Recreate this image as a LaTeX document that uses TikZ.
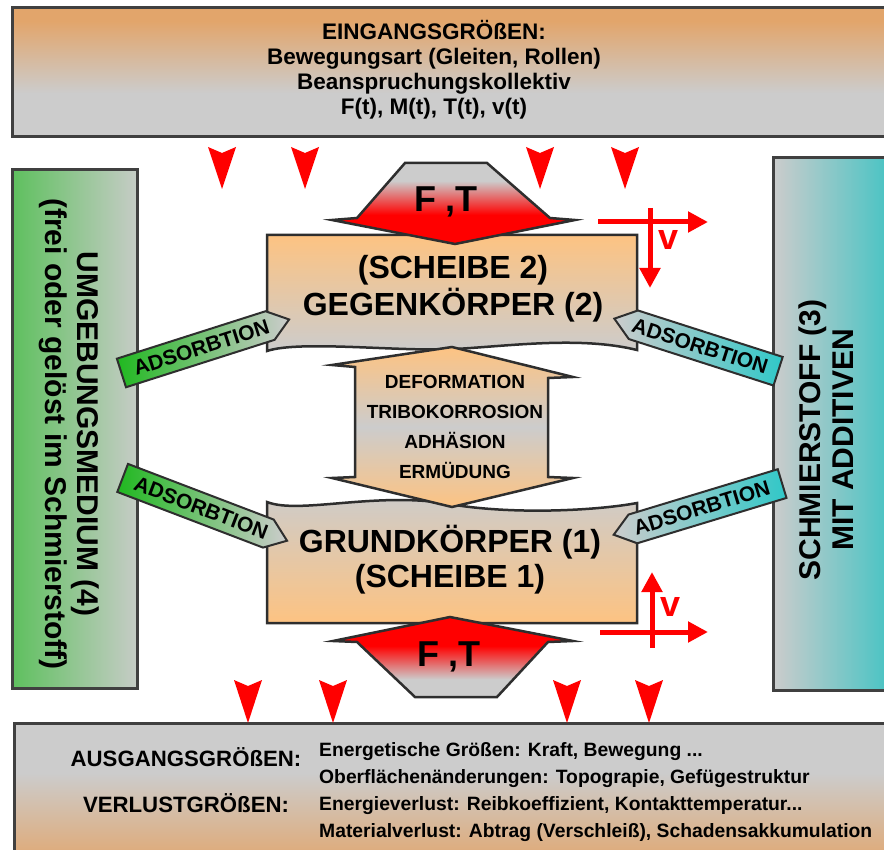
\documentclass[tikz,border=0pt]{standalone}
\usepackage{fontspec}
\setmainfont{Liberation Sans}
\usetikzlibrary{arrows.meta}
\definecolor{boxgray}{HTML}{CCCCCC}
\definecolor{topor}{HTML}{E2A56B}
\definecolor{blockor}{HTML}{FDC382}
\definecolor{edge}{HTML}{2E2E2E}
\definecolor{framec}{HTML}{404040}
\definecolor{envgreen}{HTML}{5EC05E}
\definecolor{envgray}{HTML}{C6CCC6}
\definecolor{lubteal}{HTML}{3CC3C3}
\definecolor{adsgreen}{HTML}{20B820}
\definecolor{adsteal}{HTML}{30C8C8}
\definecolor{redf}{HTML}{FF0000}
\pgfdeclareverticalshading{topboxsh}{100bp}{color(0bp)=(boxgray); color(25bp)=(boxgray); color(42bp)=(boxgray); color(70bp)=(topor); color(100bp)=(topor)}
\pgfdeclareverticalshading{botboxsh}{100bp}{color(0bp)=(topor); color(25bp)=(topor); color(58bp)=(boxgray); color(75bp)=(boxgray); color(100bp)=(boxgray)}
\pgfdeclareverticalshading{midsh}{100bp}{color(0bp)=(blockor); color(25bp)=(blockor); color(50bp)=(boxgray); color(75bp)=(blockor); color(100bp)=(blockor)}
\pgfdeclareverticalshading{ftupsh}{100bp}{color(0bp)=(redf); color(25bp)=(redf); color(43bp)=(redf); color(64bp)=(boxgray); color(75bp)=(boxgray); color(100bp)=(boxgray)}
\pgfdeclareverticalshading{ftdownsh}{100bp}{color(0bp)=(boxgray); color(25bp)=(boxgray); color(36bp)=(boxgray); color(57bp)=(redf); color(75bp)=(redf); color(100bp)=(redf)}
\newcommand{\szf}[2]{\fontsize{#1}{#2}\selectfont\bfseries}
\begin{document}
\begin{tikzpicture}[x=1pt,y=-1pt,
  frame/.style={draw=framec, line width=3pt},
  blk/.style={draw=edge, line width=2.5pt, line join=miter},
  lbl/.style={inner sep=0pt, align=center, text=black},
  adsbox/.style={draw=edge, line width=2pt, line join=miter},
  adstext/.style={inner sep=0pt, transform shape, font=\szf{21}{22}},
  varrow/.style={draw=redf, line width=5pt, -{Triangle[length=20pt,width=20pt]}},
]
\useasboundingbox (0,0) rectangle (884,850);
\clip (0,0) rectangle (884,850);
\fill[white] (0,0) rectangle (884,850);

% input / output boxes
\draw[frame, shade, shading=topboxsh] (12,8) rectangle (900,137);
\draw[frame, shade, shading=botboxsh] (14,723) rectangle (900,870);
% environment and lubricant boxes
\draw[frame, left color=envgreen, right color=envgray] (12,170) rectangle (137,688);
\draw[frame, left color=boxgray, right color=lubteal] (773,158) rectangle (900,690);

% bodies
\draw[blk, top color=blockor, bottom color=boxgray]
  (267,235) -- (637,235) -- (637,350) .. controls (580,336) and (510,346) .. (455,349)
  .. controls (400,352) and (300,340) .. (267,351) -- cycle;
\draw[blk, top color=boxgray, bottom color=blockor]
  (267,502) .. controls (300,515) and (380,490) .. (455,505)
  .. controls (520,515) and (600,510) .. (637,503) -- (637,623) -- (267,623) -- cycle;

% mechanisms double arrow
\draw[blk, shade, shading=midsh]
  (452,347) -- (573,377) -- (548,378) -- (548,477) -- (573,478) -- (452,507)
  -- (332,478) -- (355,477) -- (355,367) -- (332,365) -- cycle;

% load shapes F,T
\draw[blk, shade, shading=ftupsh]
  (405,163) -- (487,163) -- (550,218) -- (575,220) -- (455,244) -- (332,220) -- (357,218) -- cycle;
\draw[blk, shade, shading=ftdownsh]
  (450,617) -- (573,641) -- (548,642) -- (497,697) -- (415,697) -- (357,642) -- (333,641) -- cycle;

% adsorption arrows
\begin{scope}[shift={(195.75,349.25)}, rotate=17.7]
  \draw[adsbox, left color=adsgreen, right color=boxgray] (-78,-15) -- (78,-15) -- (98,0) -- (78,15) -- (-78,15) -- cycle;
  \node[adstext] (ads1) at (6,0) {ADSORBTION};
\end{scope}
\begin{scope}[shift={(195.5,505.75)}, rotate=-20.9]
  \draw[adsbox, left color=adsgreen, right color=boxgray] (-78,-15) -- (78,-15) -- (98,0) -- (78,15) -- (-78,15) -- cycle;
  \node[adstext] (ads2) at (6,0) {ADSORBTION};
\end{scope}
\begin{scope}[shift={(705.75,348)}, rotate=-17.8]
  \draw[adsbox, left color=boxgray, right color=adsteal] (-76,-15) -- (76,-15) -- (76,15) -- (-76,15) -- (-96,0) -- cycle;
  \node[adstext] (ads3) at (-6,0) {ADSORBTION};
\end{scope}
\begin{scope}[shift={(707.5,506.25)}, rotate=16.9]
  \draw[adsbox, left color=boxgray, right color=adsteal] (-78,-15) -- (78,-15) -- (78,15) -- (-78,15) -- (-98,0) -- cycle;
  \node[adstext] (ads4) at (-6,0) {ADSORBTION};
\end{scope}

% red input arrowheads
\foreach \x in {222,305,540,625}
  \fill[redf] (\x-14,147) -- (\x,153) -- (\x+14,147) -- (\x,189) -- cycle;
\foreach \x in {248,333,567,649}
  \fill[redf] (\x-14,680) -- (\x,686) -- (\x+14,680) -- (\x,723) -- cycle;

% velocity arrows
\coordinate (vh1a) at (598,222); \coordinate (vh1b) at (708,222);
\coordinate (vv1a) at (650,208); \coordinate (vv1b) at (650,288);
\draw[varrow] (vh1a) -- (vh1b);
\draw[varrow] (vv1a) -- (vv1b);
\node[lbl, text=redf, font=\szf{36}{36}] (v1) at (669,240) {v};
\coordinate (vh2a) at (600,632); \coordinate (vh2b) at (708,632);
\coordinate (vv2a) at (652,648); \coordinate (vv2b) at (652,572);
\draw[varrow] (vh2a) -- (vh2b);
\draw[varrow] (vv2a) -- (vv2b);
\node[lbl, text=redf, font=\szf{36}{36}] (v2) at (671,607) {v};

% texts
\node[lbl, font=\szf{22.5}{25}] (inp) at (434,70) {EINGANGSGRÖßEN:\\Bewegungsart (Gleiten, Rollen)\\Beanspruchungskollektiv\\F(t), M(t), T(t), v(t)};
\node[lbl, font=\szf{22.2}{46}] (outl) at (186,780) {AUSGANGSGRÖßEN:\\VERLUSTGRÖßEN:};
\node[lbl, align=left, anchor=west, font=\szf{19.3}{26.7}] (outr) at (319,792) {Energetische Größen: Kraft, Bewegung ...\\Oberflächenänderungen: Topograpie, Gefügestruktur\\Energieverlust: Reibkoeffizient, Kontakttemperatur...\\Materialverlust: Abtrag (Verschleiß), Schadensakkumulation};
\node[lbl, font=\szf{32}{37}] (gk) at (453,289) {(SCHEIBE 2)\\GEGENKÖRPER (2)};
\node[lbl, font=\szf{32}{35}] (grk) at (450,560) {GRUNDKÖRPER (1)\\(SCHEIBE 1)};
\node[lbl, font=\szf{19}{30}] (mech) at (455,427) {DEFORMATION\\TRIBOKORROSION\\ADHÄSION\\ERMÜDUNG};
\node[lbl, font=\szf{36}{36}] (ft1) at (446,202) {F ,T};
\node[lbl, font=\szf{36}{36}] (ft2) at (449,657) {F ,T};
\node[lbl, rotate=-90, font=\szf{30}{32}] (env) at (69,434) {UMGEBUNGSMEDIUM (4)\\(frei oder gelöst im Schmierstoff)};
\node[lbl, rotate=90, font=\szf{30}{33}] (lub) at (826,440) {SCHMIERSTOFF (3)\\MIT ADDITIVEN};
\end{tikzpicture}
\end{document}
